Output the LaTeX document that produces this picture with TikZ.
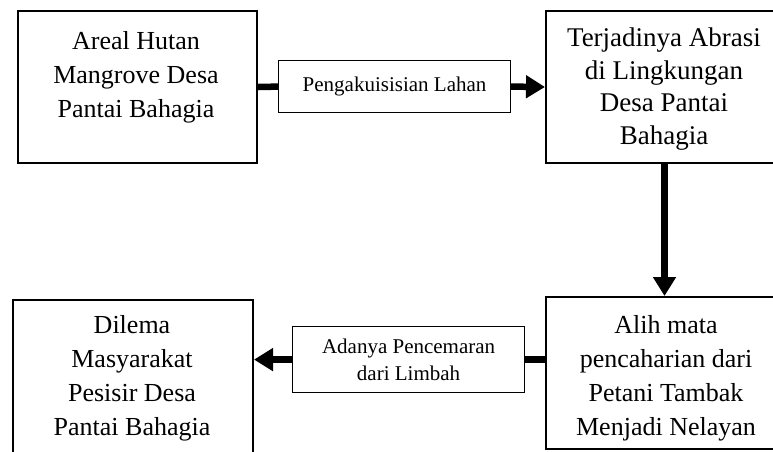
\documentclass[tikz,border=0pt]{standalone}
\usepackage{fontspec}
\setmainfont{Liberation Serif}
\usetikzlibrary{arrows.meta}
\begin{document}
\begin{tikzpicture}[x=1pt, y=-1pt,
  mainbox/.style={draw, line width=2pt, rectangle, inner sep=0pt, anchor=north west},
  maintext/.style={align=center, inner sep=0pt, font=\fontsize{26}{34}\selectfont},
  righttext/.style={align=center, inner sep=0pt, font=\fontsize{27}{32.5}\selectfont},
  labelbox/.style={draw, line width=1.2pt, rectangle, inner sep=0pt, anchor=north west,
    align=center, font=\fontsize{21}{27}\selectfont},
  conn/.style={line width=6.5pt},
  headed/.style={conn, -{Triangle[length=19pt, width=22pt]}}]
  \useasboundingbox (0,0) rectangle (773,451);

  % main boxes
  \node[mainbox, minimum width=239pt, minimum height=152pt] (b1) at (17,10) {};
  \node[mainbox, minimum width=237pt, minimum height=152pt] (b2) at (545,10) {};
  \node[mainbox, minimum width=240pt, minimum height=156pt] (b3) at (12,299) {};
  \node[mainbox, minimum width=237pt, minimum height=152pt] (b4) at (545,296) {};

  % box texts
  \node[maintext] (t1) at (136,77) {Areal Hutan\\Mangrove Desa\\Pantai Bahagia};
  \node[righttext] (t2) at (664,89) {Terjadinya Abrasi\\di Lingkungan\\Desa Pantai\\Bahagia};
  \node[maintext] (t3) at (132,378) {Dilema\\Masyarakat\\Pesisir Desa\\Pantai Bahagia};
  \node[maintext] (t4) at (666,378) {Alih mata\\pencaharian dari\\Petani Tambak\\Menjadi Nelayan};

  % labels on the connectors
  \node[labelbox, minimum width=232pt, minimum height=52pt] (l1) at (278,60) {Pengakuisisian Lahan};
  \node[labelbox, minimum width=232pt, minimum height=66pt] (l2) at (292,326) {Adanya Pencemaran\\dari Limbah};

  % connectors
  \draw[conn] (b1.east) -- (l1.west);
  \draw[headed] (l1.east) -- (b2.west);
  \draw[headed] (b2.south) -- (b4.north);
  \draw[conn] (l2.east -| b4.west) -- (l2.east);
  \draw[headed] (l2.west) -- (l2.west -| b3.east);
\end{tikzpicture}
\end{document}
